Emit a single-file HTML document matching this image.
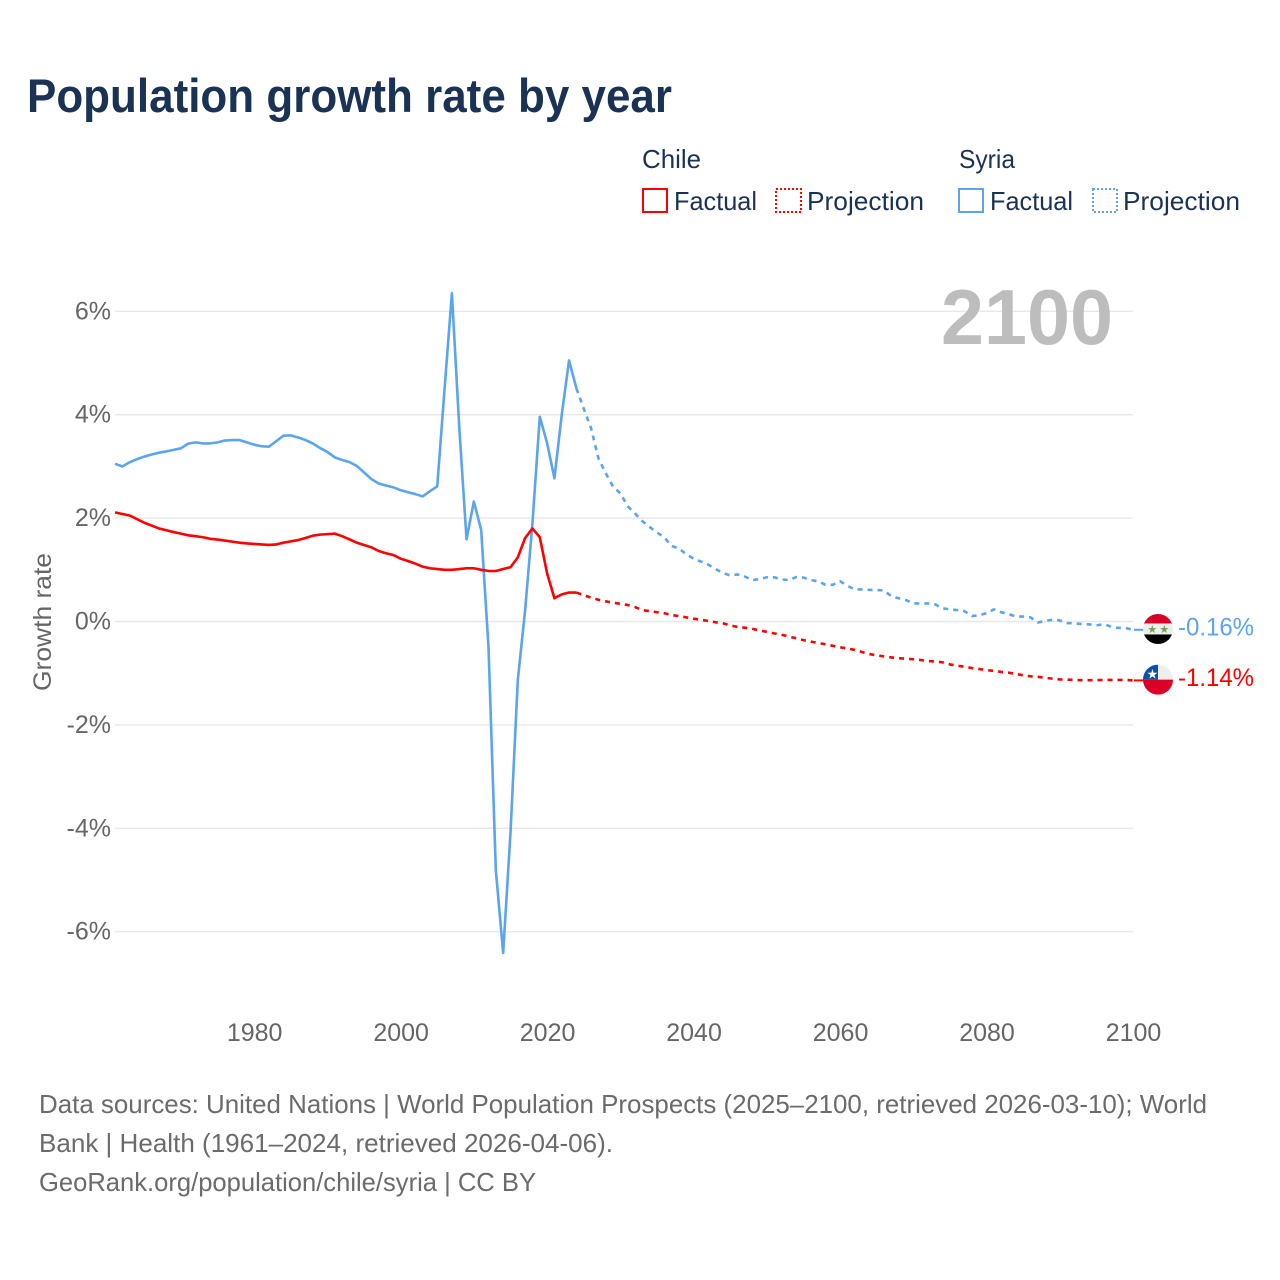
<!DOCTYPE html>
<html lang="en">
<head>
<meta charset="utf-8">
<title>Population growth rate by year</title>
<style>
html,body{margin:0;padding:0;background:#fff;}
svg{display:block;font-family:"Liberation Sans",sans-serif;}
</style>
</head>
<body>
<svg id="chart" xmlns="http://www.w3.org/2000/svg" width="1280" height="1280" viewBox="0 0 1280 1280">
  <rect x="0" y="0" width="1280" height="1280" fill="#ffffff"/>
  <text x="27" y="112" font-size="47" font-weight="700" fill="#1a3354" textLength="645" lengthAdjust="spacingAndGlyphs">Population growth rate by year</text>

  <g font-size="26" fill="#1a3354">
    <text x="642" y="168" textLength="59" lengthAdjust="spacingAndGlyphs">Chile</text>
    <rect x="643" y="189" width="24" height="23" fill="none" stroke="#ff0000" stroke-width="2"/>
    <text x="674" y="210" textLength="83" lengthAdjust="spacingAndGlyphs">Factual</text>
    <rect x="776" y="189" width="25" height="23" fill="none" stroke="#ff0000" stroke-width="2" stroke-dasharray="2 2"/>
    <text x="807" y="210" textLength="117" lengthAdjust="spacingAndGlyphs">Projection</text>
    <text x="959" y="168" textLength="56" lengthAdjust="spacingAndGlyphs">Syria</text>
    <rect x="959" y="189" width="24" height="23" fill="none" stroke="#5ba4ee" stroke-width="2"/>
    <text x="990" y="210" textLength="83" lengthAdjust="spacingAndGlyphs">Factual</text>
    <rect x="1093" y="189" width="24" height="23" fill="none" stroke="#5ba4ee" stroke-width="2" stroke-dasharray="2 2"/>
    <text x="1123" y="210" textLength="117" lengthAdjust="spacingAndGlyphs">Projection</text>
  </g>

  <g id="grid"></g>
  <g id="y-ticks"></g>
  <g id="x-ticks"></g>
  <text transform="translate(51,622) rotate(-90)" text-anchor="middle" font-size="25" fill="#666666" textLength="138" lengthAdjust="spacingAndGlyphs">Growth rate</text>
  <text x="941" y="344" font-size="78" font-weight="700" fill="#bdbdbd" textLength="172" lengthAdjust="spacingAndGlyphs">2100</text>

  <g id="series"></g>

  <g id="flag-syria">
    <clipPath id="clip-syria"><circle cx="0" cy="0" r="15"/></clipPath>
    <g clip-path="url(#clip-syria)">
      <rect x="-15" y="-15" width="30" height="30" fill="#eeeeee"/>
      <rect x="-15" y="-15" width="30" height="9.5" fill="#dc0029"/>
      <rect x="-15" y="5.5" width="30" height="9.5" fill="#000000"/>
      <text x="-5.7" y="4" font-size="11" text-anchor="middle" fill="#6da544">★</text>
      <text x="6.3" y="4" font-size="11" text-anchor="middle" fill="#6da544">★</text>
    </g>
  </g>
  <g id="flag-chile">
    <clipPath id="clip-chile"><circle cx="0" cy="0" r="15"/></clipPath>
    <g clip-path="url(#clip-chile)">
      <rect x="-15" y="-15" width="30" height="15" fill="#eeeeee"/>
      <rect x="-15" y="0" width="30" height="15" fill="#dc0029"/>
      <rect x="-15" y="-15" width="15" height="15" fill="#0a52a6"/>
      <text x="-5.5" y="-1" font-size="13" text-anchor="middle" fill="#ffffff">★</text>
    </g>
  </g>
  <text id="label-syria" x="1178" font-size="25" fill="#5ba4ee" textLength="76" lengthAdjust="spacingAndGlyphs"></text>
  <text id="label-chile" x="1178" font-size="25" fill="#ff0000" textLength="76" lengthAdjust="spacingAndGlyphs"></text>

  <g font-size="26" fill="#6b6b6b">
    <text x="39" y="1113" textLength="1168" lengthAdjust="spacingAndGlyphs">Data sources: United Nations | World Population Prospects (2025–2100, retrieved 2026-03-10); World</text>
    <text x="39" y="1152" textLength="574" lengthAdjust="spacingAndGlyphs">Bank | Health (1961–2024, retrieved 2026-04-06).</text>
    <text x="39" y="1191" textLength="497" lengthAdjust="spacingAndGlyphs">GeoRank.org/population/chile/syria | CC BY</text>
  </g>
</svg>
<script>
const yTickValues = [6, 4, 2, 0, -2, -4, -6];
const xTickYears = [1980, 2000, 2020, 2040, 2060, 2080, 2100];
const factualStartYear = 1961;
const projectionStartYear = 2024;

const chileFactual = [2.11,2.08,2.05,1.98,1.91,1.855,1.80,1.765,1.73,1.70,1.667,1.65,1.63,1.60,1.585,1.565,1.545,1.525,1.51,1.50,1.49,1.48,1.49,1.525,1.55,1.575,1.615,1.66,1.68,1.69,1.70,1.65,1.59,1.525,1.48,1.435,1.364,1.32,1.286,1.215,1.17,1.12,1.06,1.03,1.015,1.0,1.0,1.015,1.03,1.03,1.0,0.977,0.977,1.015,1.05,1.24,1.615,1.80,1.63,0.93,0.45,0.525,0.56,0.56];
const syriaFactual = [3.05,3.00,3.08,3.14,3.19,3.23,3.265,3.29,3.32,3.35,3.44,3.465,3.445,3.445,3.465,3.50,3.51,3.51,3.465,3.42,3.39,3.38,3.485,3.595,3.60,3.56,3.51,3.445,3.355,3.28,3.175,3.125,3.085,3.01,2.885,2.755,2.67,2.63,2.595,2.54,2.50,2.465,2.42,2.52,2.615,4.5,6.35,3.77,1.59,2.32,1.77,-0.5,-4.81,-6.41,-4.09,-1.13,0.22,1.9,3.96,3.45,2.77,4.0,5.05,4.51];
const chileProjection = [0.56,0.51,0.46,0.42,0.39,0.365,0.34,0.32,0.28,0.22,0.20,0.18,0.16,0.125,0.105,0.08,0.055,0.035,0.01,-0.015,-0.035,-0.075,-0.105,-0.12,-0.14,-0.175,-0.20,-0.23,-0.255,-0.29,-0.325,-0.36,-0.39,-0.415,-0.44,-0.47,-0.50,-0.52,-0.55,-0.59,-0.63,-0.655,-0.675,-0.695,-0.71,-0.72,-0.73,-0.745,-0.765,-0.775,-0.79,-0.83,-0.855,-0.875,-0.90,-0.92,-0.94,-0.955,-0.975,-0.99,-1.015,-1.04,-1.06,-1.07,-1.09,-1.105,-1.12,-1.125,-1.13,-1.135,-1.135,-1.135,-1.13,-1.13,-1.13,-1.13,-1.14];
const syriaProjection = [4.51,4.12,3.74,3.16,2.87,2.61,2.48,2.23,2.09,1.94,1.83,1.72,1.63,1.46,1.415,1.30,1.215,1.16,1.10,1.015,0.94,0.89,0.91,0.87,0.80,0.82,0.855,0.855,0.815,0.80,0.86,0.85,0.80,0.78,0.71,0.71,0.78,0.69,0.62,0.62,0.61,0.61,0.60,0.49,0.45,0.415,0.35,0.35,0.35,0.33,0.255,0.235,0.22,0.20,0.105,0.12,0.16,0.235,0.18,0.145,0.095,0.095,0.08,-0.02,0.01,0.035,0.02,-0.03,-0.035,-0.05,-0.055,-0.075,-0.05,-0.10,-0.125,-0.125,-0.16];

const NS = 'http://www.w3.org/2000/svg';
const plotLeft = 115, plotRight = 1133;
function xScale(year) { return plotLeft + (year - 1961) * (plotRight - plotLeft) / 139; }
function yScale(v) { return 621.5 - v * 51.7; }
function make(tag, attrs, parent) {
  const el = document.createElementNS(NS, tag);
  for (const k in attrs) el.setAttribute(k, attrs[k]);
  parent.appendChild(el);
  return el;
}
function pathFrom(values, startYear) {
  return values.map((v, i) => (i ? 'L' : 'M') + xScale(startYear + i).toFixed(2) + ' ' + yScale(v).toFixed(2)).join(' ');
}

const gridG = document.getElementById('grid');
const yG = document.getElementById('y-ticks');
yTickValues.forEach(v => {
  const line = make('line', {x1: plotLeft, x2: plotRight, y1: yScale(v), y2: yScale(v), stroke: '#e8e8e8', 'stroke-width': 1.4}, gridG);
  
  
  const t = make('text', {x: 111, y: yScale(v) + 8, 'text-anchor': 'end', 'font-size': 25, fill: '#666666'}, yG);
  t.textContent = v + '%';
  
  
});

const xG = document.getElementById('x-ticks');
xTickYears.forEach(year => {
  const t = make('text', {x: xScale(year) + 0.5, y: 1041, 'text-anchor': 'middle', 'font-size': 25, fill: '#666666'}, xG);
  t.textContent = String(year);
  
  
});

const seriesG = document.getElementById('series');
const common = {fill: 'none', 'stroke-width': 2.6, 'stroke-linejoin': 'round'};
const syriaColor = '#5ba4ee', chileColor = '#ff0000';

const syriaLine = make('path', Object.assign({d: pathFrom(syriaFactual, factualStartYear), stroke: syriaColor}, common), seriesG);



const chileLine = make('path', Object.assign({d: pathFrom(chileFactual, factualStartYear), stroke: chileColor}, common), seriesG);



const syriaProj = make('path', Object.assign({d: pathFrom(syriaProjection, projectionStartYear), stroke: syriaColor, 'stroke-dasharray': '5 5'}, common), seriesG);



const chileProj = make('path', Object.assign({d: pathFrom(chileProjection, projectionStartYear), stroke: chileColor, 'stroke-dasharray': '5 5'}, common), seriesG);



const syriaLast = syriaProjection[syriaProjection.length - 1];
const chileLast = chileProjection[chileProjection.length - 1];

const syriaLeader = make('line', {x1: plotRight + 1, x2: 1144, y1: yScale(syriaLast), y2: yScale(syriaLast), stroke: syriaColor, 'stroke-width': 2}, seriesG);


const chileLeader = make('line', {x1: plotRight + 1, x2: 1144, y1: yScale(chileLast), y2: yScale(chileLast), stroke: chileColor, 'stroke-width': 2}, seriesG);



const flagX = 1158;
document.getElementById('flag-syria').setAttribute('transform', 'translate(' + flagX + ',' + (yScale(syriaLast) - 0.8) + ')');
document.getElementById('flag-chile').setAttribute('transform', 'translate(' + flagX + ',' + (yScale(chileLast) - 0.8) + ')');

const labelSyria = document.getElementById('label-syria');
labelSyria.setAttribute('y', yScale(syriaLast) + 5.5);
labelSyria.textContent = syriaLast.toFixed(2) + '%';
const labelChile = document.getElementById('label-chile');
labelChile.setAttribute('y', yScale(chileLast) + 5.5);
labelChile.textContent = chileLast.toFixed(2) + '%';
</script>
</body>
</html>
